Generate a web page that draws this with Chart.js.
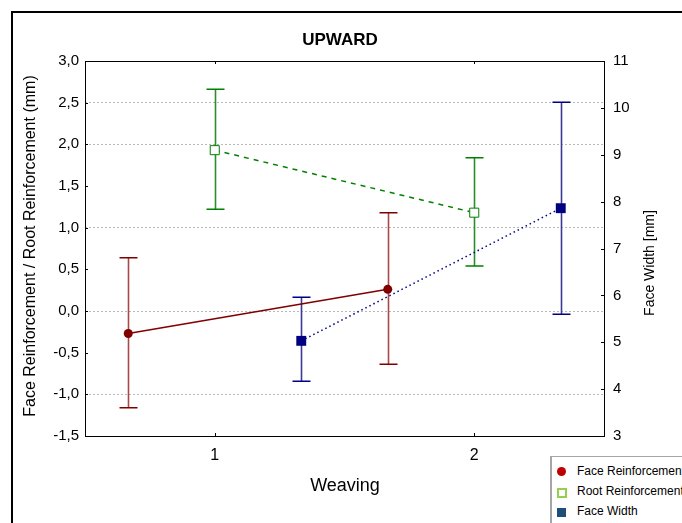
<!DOCTYPE html>
<html>
<head>
<meta charset="utf-8">
<script src="https://cdn.jsdelivr.net/npm/chart.js@4.4.0/dist/chart.umd.min.js"></script>
<style>
  body { margin: 0; background: #fff; overflow: hidden; font-family: "Liberation Sans", Arial, sans-serif; }
  #wrap { position: relative; width: 682px; height: 523px; }
  #frame { position: absolute; left: 11px; top: 11px; width: 700px; height: 540px; border-left: 2px solid #000; border-top: 2px solid #000; pointer-events: none; }
  #legend { position: absolute; left: 550px; top: 456px; width: 160px; height: 80px; border: 1px solid #a6a6a6; border-left-width: 2px; background: #fff; font-size: 12px; color: #000; }
  .item { position: absolute; left: 25px; white-space: nowrap; }
  .sw { position: absolute; }
</style>
</head>
<body>
<div id="wrap">
  <canvas id="chart" width="682" height="523"></canvas>
  <div id="frame"></div>
  <div id="legend">
    <div class="sw" style="left:5px;top:10px;width:9px;height:9px;border-radius:50%;background:#c00000;"></div>
    <div class="item" style="top:7px;">Face Reinforcement</div>
    <div class="sw" style="left:5px;top:31px;width:6px;height:6px;border:2px solid #92d050;background:#fff;"></div>
    <div class="item" style="top:27px;">Root Reinforcement</div>
    <div class="sw" style="left:5px;top:51px;width:9px;height:9px;background:#1f4e79;"></div>
    <div class="item" style="top:47px;">Face Width</div>
  </div>
</div>
<script>
// Weaving groups on the x axis
const groups = [1, 2];

// Face Reinforcement (left axis, mm)
const faceReinfMean = [-0.27, 0.26];
const faceReinfLow = [-1.16, -0.64];
const faceReinfHigh = [0.64, 1.18];

// Root Reinforcement (left axis, mm)
const rootReinfMean = [1.93, 1.18];
const rootReinfLow = [1.22, 0.54];
const rootReinfHigh = [2.66, 1.84];

// Face Width (right axis, mm)
const faceWidthMean = [5.03, 7.86];
const faceWidthLow = [4.17, 5.60];
const faceWidthHigh = [5.96, 10.12];

// horizontal shift of each series around its group
const seriesShift = [-1 / 3, 0, 1 / 3];

const gridValues = [2.5, 2.0, 1.0, 0.0, -1.0];
const FONT = '"Liberation Sans", Arial, sans-serif';

function points(means, shift) {
    return groups.map((g, i) => ({ x: g + shift, y: means[i] }));
}

// error bars + frame + inward ticks + titles
const extras = {
    id: 'extras',
    beforeDatasetsDraw(chart) {
        const { ctx } = chart;
        const xs = chart.scales.x;
        chart.data.datasets.forEach((ds) => {
            const ys = chart.scales[ds.yAxisID];
            ds.data.forEach((pt, j) => {
                const x = Math.round(xs.getPixelForValue(pt.x)) + 0.5;
                const yLo = ys.getPixelForValue(ds.errLow[j]);
                const yHi = ys.getPixelForValue(ds.errHigh[j]);
                ctx.save();
                ctx.strokeStyle = ds.barColor;
                ctx.lineWidth = 1.6;
                ctx.beginPath();
                ctx.moveTo(x, yLo);
                ctx.lineTo(x, yHi);
                ctx.stroke();
                ctx.strokeStyle = ds.borderColor;
                ctx.lineWidth = 1.5;
                ctx.beginPath();
                ctx.moveTo(x - 9, yLo);
                ctx.lineTo(x + 9, yLo);
                ctx.moveTo(x - 9, yHi);
                ctx.lineTo(x + 9, yHi);
                ctx.stroke();
                ctx.restore();
            });
        });
    },
    afterDraw(chart) {
        const { ctx, chartArea: a } = chart;
        const xs = chart.scales.x, yl = chart.scales.y, yr = chart.scales.y1;
        ctx.save();
        ctx.strokeStyle = '#000';
        ctx.lineWidth = 1;
        ctx.strokeRect(a.left + 0.5, a.top + 0.5, a.right - a.left, a.bottom - a.top);
        ctx.beginPath();
        yl.ticks.forEach(t => {
            const y = Math.round(yl.getPixelForValue(t.value)) + 0.5;
            ctx.moveTo(a.left, y); ctx.lineTo(a.left + 3, y);
        });
        yr.ticks.forEach(t => {
            const y = Math.round(yr.getPixelForValue(t.value)) + 0.5;
            ctx.moveTo(a.right, y); ctx.lineTo(a.right - 3, y);
        });
        xs.ticks.forEach(t => {
            const x = Math.round(xs.getPixelForValue(t.value)) + 0.5;
            ctx.moveTo(x, a.top); ctx.lineTo(x, a.top + 3);
            ctx.moveTo(x, a.bottom); ctx.lineTo(x, a.bottom - 3);
        });
        ctx.stroke();

        ctx.fillStyle = '#000';
        ctx.textAlign = 'center';
        ctx.textBaseline = 'middle';
        ctx.font = 'bold 17px ' + FONT;
        ctx.fillText('UPWARD', 340, 40);
        ctx.font = '18px ' + FONT;
        ctx.fillText('Weaving', 345, 486);

        ctx.save();
        ctx.translate(31, 246);
        ctx.rotate(-Math.PI / 2);
        ctx.font = '16px ' + FONT;
        ctx.fillText('Face Reinforcement / Root Reinforcement (mm)', 0, 0);
        ctx.restore();

        ctx.save();
        ctx.translate(650, 263);
        ctx.rotate(-Math.PI / 2);
        ctx.font = '14px ' + FONT;
        ctx.fillText('Face Width [mm]', 0, 0);
        ctx.restore();
        ctx.restore();
    }
};

new Chart(document.getElementById('chart').getContext('2d'), {
    type: 'line',
    data: {
        datasets: [{
            label: 'Face Reinforcement',
            data: points(faceReinfMean, seriesShift[0]),
            errLow: faceReinfLow,
            errHigh: faceReinfHigh,
            yAxisID: 'y',
            borderColor: '#800000',
            barColor: '#a84848',
            backgroundColor: '#800000',
            borderWidth: 1.5,
            pointStyle: 'circle',
            pointRadius: 4.5,
            pointBorderWidth: 0
        }, {
            label: 'Root Reinforcement',
            data: points(rootReinfMean, seriesShift[1]),
            errLow: rootReinfLow,
            errHigh: rootReinfHigh,
            yAxisID: 'y',
            borderColor: '#008000',
            barColor: '#2a8f2a',
            backgroundColor: '#ffffff',
            borderWidth: 1.5,
            borderDash: [5, 5],
            pointStyle: 'rect',
            pointRadius: 6.4,
            pointBorderWidth: 1
        }, {
            label: 'Face Width',
            data: points(faceWidthMean, seriesShift[2]),
            errLow: faceWidthLow,
            errHigh: faceWidthHigh,
            yAxisID: 'y1',
            borderColor: '#000080',
            barColor: '#3a3a96',
            backgroundColor: '#000080',
            borderWidth: 1.5,
            borderDash: [1.5, 3],
            pointStyle: 'rect',
            pointRadius: 7,
            pointBorderWidth: 0
        }]
    },
    options: {
        responsive: false,
        animation: false,
        devicePixelRatio: 1,
        layout: { padding: { top: 61, left: 0, right: 0, bottom: 0 } },
        plugins: {
            legend: { display: false },
            title: { display: false },
            tooltip: { enabled: false }
        },
        scales: {
            x: {
                type: 'linear',
                min: 0.5,
                max: 2.5,
                afterBuildTicks: (s) => { s.ticks = groups.map(v => ({ value: v })); },
                afterFit: (s) => { s.height = 87; },
                grid: { display: false, drawTicks: false },
                border: { display: false },
                ticks: {
                    padding: 10,
                    color: '#000',
                    font: { family: FONT, size: 16 },
                    callback: (v) => String(v)
                }
            },
            y: {
                position: 'left',
                min: -1.5,
                max: 3,
                afterFit: (s) => { s.width = 85; },
                grid: {
                    drawTicks: false,
                    color: (c) => gridValues.some(g => Math.abs(g - c.tick.value) < 1e-6) ? '#b8b8b8' : 'rgba(0,0,0,0)',
                    lineWidth: 1
                },
                border: { display: false, dash: [2, 2] },
                ticks: {
                    stepSize: 0.5,
                    padding: 6,
                    color: '#000',
                    font: { family: FONT, size: 15 },
                    callback: (v) => v.toFixed(1).replace('.', ',')
                }
            },
            y1: {
                position: 'right',
                min: 3,
                max: 11,
                afterFit: (s) => { s.width = 78; },
                grid: { drawOnChartArea: false, drawTicks: false },
                border: { display: false },
                ticks: {
                    stepSize: 1,
                    padding: 9,
                    color: '#000',
                    font: { family: FONT, size: 15 }
                }
            }
        }
    },
    plugins: [extras]
});
</script>
</body>
</html>
